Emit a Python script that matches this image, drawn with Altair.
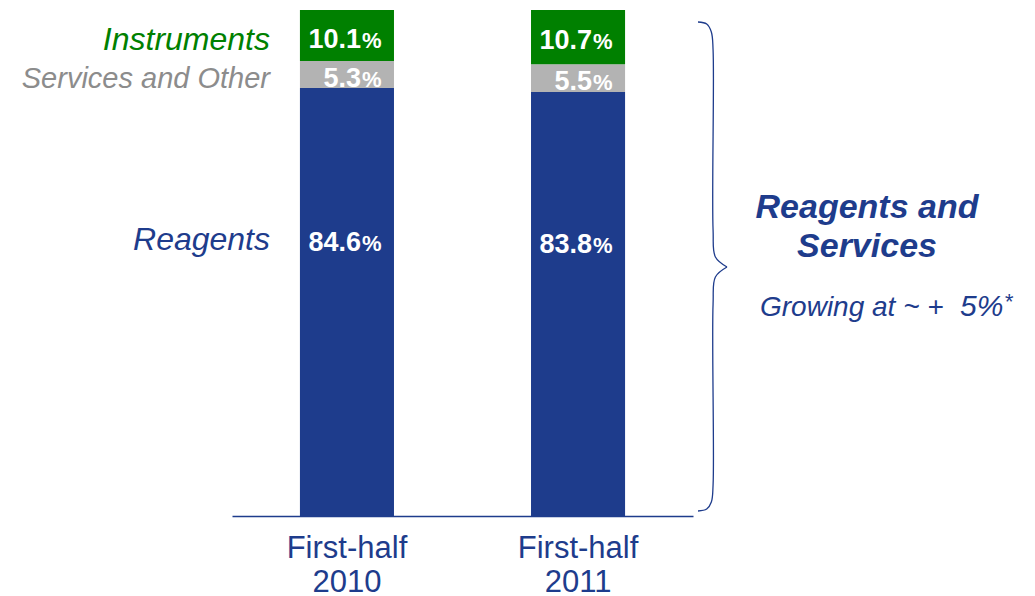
import altair as alt
import pandas as pd

# ---------------- data ----------------
periods = ["First-half 2010", "First-half 2011"]
period_labels = ["First-half\n2010", "First-half\n2011"]
segments = ["Reagents", "Services and Other", "Instruments"]
reagents = [84.6, 83.8]
services = [5.3, 5.5]
instruments = [10.1, 10.7]

# decorative curly brace (normalised x, pixel-like y), two halves
brace_x = [0.00, 0.30, 0.46, 0.52, 0.52, 0.60, 1.00,
           1.00, 0.60, 0.52, 0.52, 0.46, 0.30, 0.00]
brace_y = [22, 24, 32, 50, 230, 257, 267,
           267, 277, 304, 485, 502, 509, 511]
brace_part = ["top"] * 7 + ["bottom"] * 7

NAVY = "#1E3C8C"
GREEN = "#008000"
GRAY_BAR = "#B3B3B3"
GRAY_TXT = "#8C8C8C"
FONT = "Liberation Sans"

rows = []
for i, p in enumerate(periods):
    cum = 0.0
    for order, (seg, vals) in enumerate(zip(segments, [reagents, services, instruments])):
        v = vals[i]
        rows.append(dict(period=p, segment=seg, value=v, order=order,
                         lo=cum, hi=cum + v, mid=cum + v / 2,
                         num=f"{v:.1f}", label=period_labels[i]))
        cum += v
df = pd.DataFrame(rows)

brace_df = pd.DataFrame({"bx": brace_x, "by": brace_y, "part": brace_part,
                         "ord": list(range(len(brace_x)))})

xscale = alt.Scale(domain=periods, paddingInner=0.593, paddingOuter=0.294)
yscale = alt.Scale(domain=[0, 100], nice=False, zero=True)

X = alt.X("period:N", sort=periods, scale=xscale,
          axis=alt.Axis(domain=True, domainColor=NAVY, domainWidth=1.5,
                        labels=False, ticks=False, grid=False, title=None))
base = alt.Chart(df).encode(x=X)

bars = base.mark_bar().encode(
    y=alt.Y("lo:Q", scale=yscale, axis=None),
    y2="hi:Q",
    color=alt.Color("segment:N", scale=alt.Scale(domain=segments,
                    range=[NAVY, GRAY_BAR, GREEN]), legend=None),
)

def num_layer(filter_expr, dy):
    b = base.transform_filter(filter_expr)
    n = b.mark_text(align="right", baseline="alphabetic", font=FONT,
                    fontWeight="bold", fontSize=27, color="white",
                    dx=14, dy=dy).encode(y=alt.Y("mid:Q", scale=yscale, axis=None),
                                         text="num:N")
    pct = b.mark_text(align="left", baseline="alphabetic", font=FONT,
                      fontWeight="bold", fontSize=22, color="white",
                      dx=15, dy=dy).encode(y=alt.Y("mid:Q", scale=yscale, axis=None),
                                           text=alt.value("%"))
    return [n, pct]

num_layers = num_layer("datum.segment != 'Reagents'", 12) + \
             num_layer("datum.segment == 'Reagents'", -51)

def left_label(seg, color, size, dy):
    return alt.Chart(df).transform_filter(
        f"datum.segment == '{seg}' && datum.period == '{periods[0]}'"
    ).mark_text(align="right", baseline="alphabetic", font=FONT,
                fontStyle="italic", fontSize=size, color=color, dy=dy).encode(
        x=alt.value(38),
        y=alt.Y("mid:Q", scale=yscale, axis=None),
        text="segment:N")

left_labels = [left_label("Instruments", GREEN, 32, 14),
               left_label("Services and Other", GRAY_TXT, 29, 13),
               left_label("Reagents", NAVY, 32, -52)]

xlabels = base.transform_filter("datum.segment == 'Reagents'").mark_text(
    baseline="alphabetic", font=FONT, fontSize=31, color=NAVY,
    lineBreak="\n", lineHeight=34).encode(y=alt.value(548), text="label:N")

note = alt.Chart(pd.DataFrame({"t": ["Reagents and\nServices"]})).mark_text(
    align="center", baseline="alphabetic", font=FONT, fontWeight="bold",
    fontStyle="italic", fontSize=34, color=NAVY, lineBreak="\n",
    lineHeight=39).encode(x=alt.value(635), y=alt.value(208), text="t:N")

grow1 = alt.Chart(pd.DataFrame({"t": ["Growing at ~  +"]})).mark_text(
    align="left", baseline="alphabetic", font=FONT, fontStyle="italic",
    fontSize=28, color=NAVY).encode(x=alt.value(528), y=alt.value(306), text="t:N")
grow2 = alt.Chart(pd.DataFrame({"t": ["5%"]})).mark_text(
    align="left", baseline="alphabetic", font=FONT, fontStyle="italic",
    fontSize=30, color=NAVY).encode(x=alt.value(728), y=alt.value(306), text="t:N")
grow3 = alt.Chart(pd.DataFrame({"t": ["*"]})).mark_text(
    align="left", baseline="top", font=FONT, fontStyle="italic",
    fontSize=22, color=NAVY).encode(x=alt.value(772), y=alt.value(282), text="t:N")

inner = alt.layer(bars, *num_layers, *left_labels, xlabels, note, grow1, grow2, grow3)

brace = alt.Chart(brace_df).mark_line(interpolate="catmull-rom", color=NAVY,
                                      strokeWidth=1.3).encode(
    x=alt.X("bx:Q", scale=alt.Scale(domain=[0, 1], range=[466, 495], nice=False, zero=False), axis=None),
    y=alt.Y("by:Q", scale=alt.Scale(domain=[0, 596], range=[-10, 586], nice=False, zero=False), axis=None),
    detail="part:N",
    order="ord:Q",
)

chart = alt.layer(inner, brace).resolve_scale(x="independent", y="independent").properties(
    width=461, height=506,
    padding={"left": 232, "top": 10, "right": 342, "bottom": 80},
    autosize=alt.AutoSizeParams(type="none"),
    background="white",
).configure_view(stroke=None)

chart.save("out.html", embed_options={"renderer": "svg", "actions": False})
